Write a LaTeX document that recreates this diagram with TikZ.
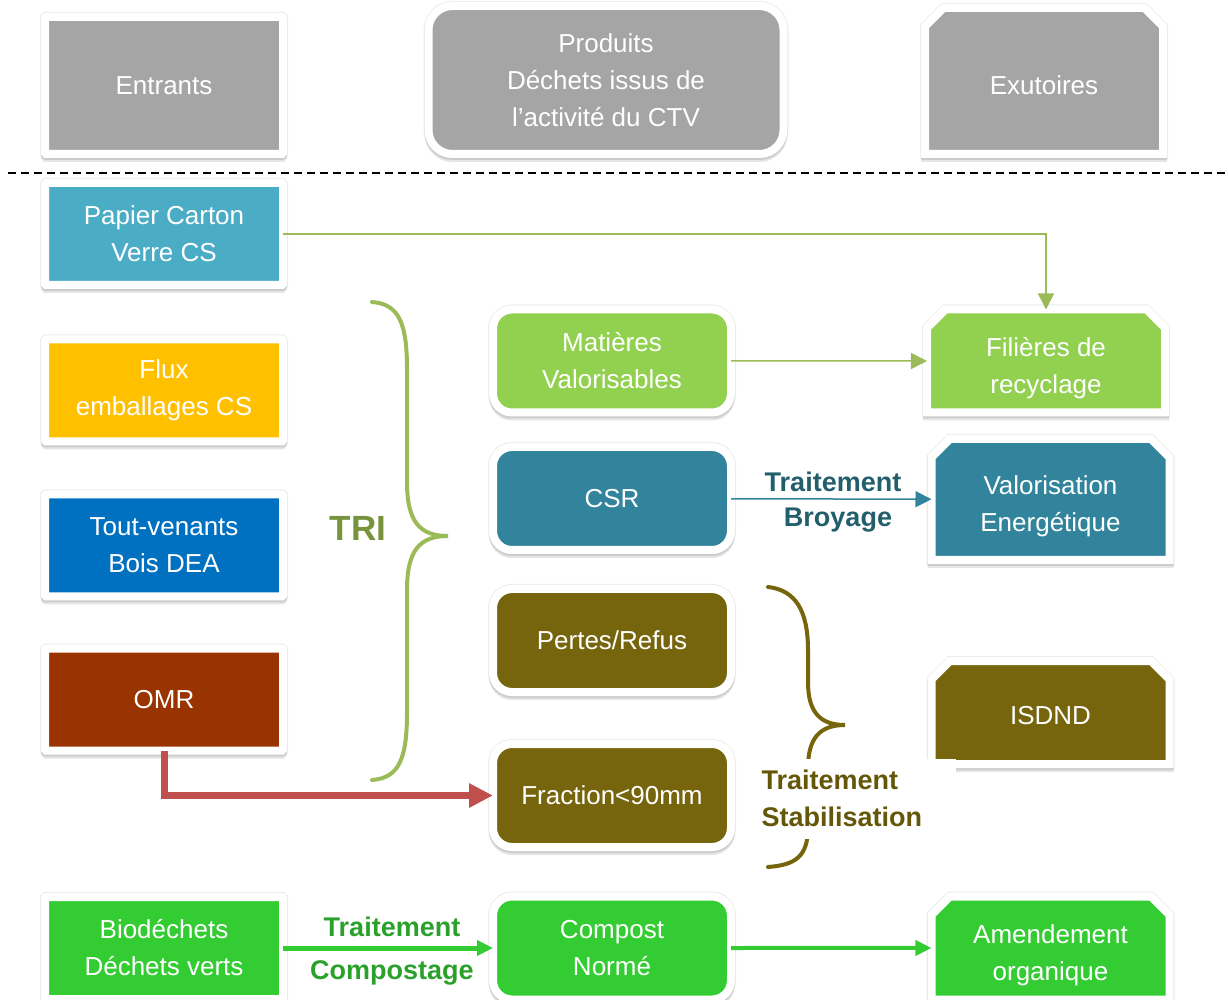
\documentclass[tikz,border=0pt]{standalone}
\usepackage{fontspec}
\setmainfont{Liberation Sans}
\usetikzlibrary{shapes.misc,arrows.meta}

\definecolor{gris}{HTML}{A5A5A5}
\definecolor{bleuclair}{HTML}{4BACC6}
\definecolor{jaune}{HTML}{FFC000}
\definecolor{bleu}{HTML}{0070C0}
\definecolor{brique}{HTML}{993300}
\definecolor{vertvif}{HTML}{33CC33}
\definecolor{vertclair}{HTML}{92D050}
\definecolor{sarcelle}{HTML}{31849B}
\definecolor{olive}{HTML}{76650C}
\definecolor{rouge}{HTML}{C0504D}
\definecolor{vertfil}{HTML}{9BBB59}
\definecolor{vertTRI}{HTML}{77933C}
\definecolor{sarcellefonce}{HTML}{235E6D}
\definecolor{vertfonce}{HTML}{2AA12A}
\definecolor{olivefonce}{HTML}{655709}

\tikzset{
	cadre/.style={draw=white,line width=4pt,outer sep=0pt,inner sep=0pt,text=white,align=center,
		font=\fontsize{13}{18.5}\selectfont,
		preaction={draw=black!7,line width=5pt},
		preaction={draw=black!10,line width=4pt,transform canvas={yshift=-2pt}},
		preaction={draw=black!20,line width=4pt,transform canvas={yshift=-1pt}}},
	entree/.style={cadre,rectangle,rounded corners=0.5pt,minimum width=119pt,minimum height=51pt},
	produit/.style={cadre,rectangle,rounded corners=9.5pt,minimum width=119pt,minimum height=51.5pt},
	% le texte des exutoires est un peu plus bas que le centre
	exutoire/.style={cadre,chamfered rectangle,chamfered rectangle corners={north west,north east},
		chamfered rectangle sep=4.6pt,minimum width=119pt,minimum height=51.5pt,
		execute at begin node={\rule{0pt}{#1}}},
	exutoire/.default=35pt,
	traitement/.style={font=\bfseries\fontsize{13.5}{18.5}\selectfont,align=center},
	fleche/.style={-{Triangle[length=8pt,width=8pt]},line width=0.75pt}
}

\begin{document}
\begin{tikzpicture}[x=0.5pt,y=-0.5pt]
	\useasboundingbox (0,0) rectangle (1228,1000);

	% en-tetes
	\node[entree,fill=gris,minimum height=68.5pt] (entrants) at (164,85.5) {Entrants};
	\node[produit,fill=gris,rounded corners=12pt,minimum width=177.5pt,minimum height=74pt] (produits) at (606,80)
		{Produits\\Déchets issus de\\l’activité du CTV};
	\node[exutoire=13.4pt,fill=gris,minimum height=73pt] (exutoires) at (1044,81) {Exutoires};
	\draw[dashed,dash pattern=on 4pt off 2.5pt,line width=0.75pt] (8,173) -- (1228,173);

	% entrants
	\node[entree,fill=bleuclair] (papier) at (164,234) {Papier Carton\\Verre CS};
	\node[entree,fill=jaune] (flux) at (164,390.5) {Flux\\emballages CS};
	\node[entree,fill=bleu] (toutvenant) at (164,545.5) {Tout-venants\\Bois DEA};
	\node[entree,fill=brique] (omr) at (164,699.5) {OMR};
	\node[entree,fill=vertvif] (bio) at (164,948) {Biodéchets\\Déchets verts};

	% produits
	\node[produit,fill=vertclair] (matieres) at (612,361) {Matières\\Valorisables};
	\node[produit,fill=sarcelle] (csr) at (612,498.5) {CSR};
	\node[produit,fill=olive] (pertes) at (612,640.5) {Pertes/Refus};
	\node[produit,fill=olive] (fraction) at (612,795.5) {Fraction<90mm};
	\node[produit,fill=vertvif] (compost) at (612,948) {Compost\\Normé};

	% exutoires
	\node[exutoire,fill=vertclair] (filieres) at (1046,361) {Filières de\\recyclage};
	\node[exutoire,fill=sarcelle,minimum height=60.5pt] (valorisation) at (1050.5,499.5) {Valorisation\\Energétique};
	\node[exutoire=12.5pt,fill=olive] (isdnd) at (1050.5,712.5) {ISDND};
	\node[exutoire,fill=vertvif] (amendement) at (1050.5,948) {Amendement\\organique};

	% accolades
	\draw[vertfil,line width=2pt,line cap=round] (372,302) .. controls (400,304) and (407,325) .. (407,370)
		-- (407,482) .. controls (407,522) and (420,536) .. (448,536)
		.. controls (420,536) and (407,550) .. (407,590) -- (407,712)
		.. controls (407,757) and (400,778) .. (372,780);
	\node[traitement,text=vertTRI,font=\bfseries\fontsize{17.5}{20}\selectfont] (tri) at (358,528) {TRI};
	\draw[olive,line width=2pt,line cap=round] (768,587) .. controls (795,590) and (808,610) .. (808,650)
		-- (808,682) .. controls (808,712) and (820,725) .. (845,725)
		.. controls (820,725) and (808,738) .. (808,768) -- (808,827)
		.. controls (808,857) and (795,865) .. (768,867);
	\node[traitement,text=olivefonce,fill=white,align=left,inner xsep=11pt,inner ysep=0pt,
		text width=86pt,minimum height=40pt] (stabilisation) at (847.5,798.5) {Traitement\\Stabilisation};

	% fleches
	\draw[fleche,vertfil] (papier.east) -| (filieres.north);
	\draw[fleche,vertfil] (matieres) -- (filieres);
	\draw[fleche,sarcelle] (csr) -- (valorisation);
	\node[traitement,text=sarcellefonce] (broyage1) at (833,482) {Traitement};
	\node[traitement,text=sarcellefonce] (broyage2) at (838,520) {Broyage};
	\draw[-{Triangle[length=12pt,width=11.5pt]},rouge,line width=3.5pt] (omr.south) |- (fraction.west);
	\draw[-{Triangle[length=8pt,width=7.5pt]},vertvif,line width=2.5pt] (bio) -- (compost);
	\node[traitement,text=vertfonce] (compostage1) at (392,927) {Traitement};
	\node[traitement,text=vertfonce] (compostage2) at (392,973) {Compostage};
	\draw[-{Triangle[length=8pt,width=7.5pt]},vertvif,line width=2pt] (compost) -- (amendement);
\end{tikzpicture}
\end{document}
